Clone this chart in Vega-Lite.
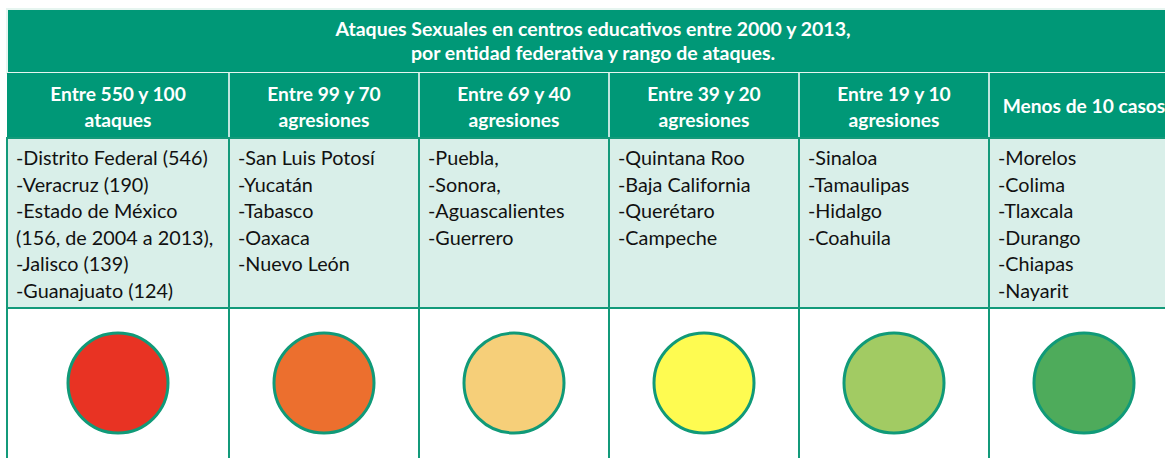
{
  "$schema": "https://vega.github.io/schema/vega-lite/v6.json",
  "padding": {"left": 6, "top": 8, "right": 0, "bottom": 0},
  "background": "white",
  "spacing": 0,
  "bounds": "flush",
  "datasets": {
    "titulo": [
      {"texto": "Ataques Sexuales en centros educativos entre 2000 y 2013,\npor entidad federativa y rango de ataques."}
    ],
    "rangos": [
      {"col": 1, "nivel": "Entre 550 y 100", "encabezado": "Entre 550 y 100\nataques", "entidades": "-Distrito Federal (546)\n-Veracruz (190)\n-Estado de México\n(156, de 2004 a 2013),\n-Jalisco (139)\n-Guanajuato (124)"},
      {"col": 2, "nivel": "Entre 99 y 70", "encabezado": "Entre 99 y 70\nagresiones", "entidades": "-San Luis Potosí\n-Yucatán\n-Tabasco\n-Oaxaca\n-Nuevo León"},
      {"col": 3, "nivel": "Entre 69 y 40", "encabezado": "Entre 69 y 40\nagresiones", "entidades": "-Puebla,\n-Sonora,\n-Aguascalientes\n-Guerrero"},
      {"col": 4, "nivel": "Entre 39 y 20", "encabezado": "Entre 39 y 20\nagresiones", "entidades": "-Quintana Roo\n-Baja California\n-Querétaro\n-Campeche"},
      {"col": 5, "nivel": "Entre 19 y 10", "encabezado": "Entre 19 y 10\nagresiones", "entidades": "-Sinaloa\n-Tamaulipas\n-Hidalgo\n-Coahuila"},
      {"col": 6, "nivel": "Menos de 10", "encabezado": "Menos de 10 casos", "entidades": "-Morelos\n-Colima\n-Tlaxcala\n-Durango\n-Chiapas\n-Nayarit"}
    ]
  },
  "vconcat": [
    {
      "width": 1172,
      "height": 64,
      "view": {"fill": "#009877", "stroke": "#e6f5f0", "strokeWidth": 2},
      "data": {"name": "titulo"},
      "mark": {"type": "text", "font": "Lato", "fontWeight": "bold", "fontSize": 19.5, "color": "#ffffff", "lineBreak": "\n", "lineHeight": 24, "align": "center", "baseline": "alphabetic", "dy": -5},
      "encoding": {"text": {"field": "texto", "type": "nominal"}}
    },
    {
      "width": 1172,
      "height": 65,
      "view": {"fill": "#009877", "stroke": null},
      "data": {"name": "rangos"},
      "layer": [
        {
          "transform": [{"filter": "datum.col > 1"}],
          "mark": {"type": "rule", "color": "#ffffff", "strokeWidth": 1.5, "xOffset": -95},
          "encoding": {
            "x": {"field": "col", "type": "quantitative", "axis": null, "scale": {"domain": [1, 2, 3, 4, 5, 6], "range": [111, 317, 507, 697, 887, 1077], "nice": false, "zero": false}}
          }
        },
        {
          "transform": [{"filter": "indexof(datum.encabezado, '\\n') >= 0"}],
          "mark": {"type": "text", "font": "Lato", "fontWeight": "bold", "fontSize": 19.2, "color": "#ffffff", "lineBreak": "\n", "lineHeight": 26, "align": "center", "baseline": "alphabetic", "dy": -5},
          "encoding": {
            "x": {"field": "col", "type": "quantitative", "axis": null, "scale": {"domain": [1, 2, 3, 4, 5, 6], "range": [111, 317, 507, 697, 887, 1077], "nice": false, "zero": false}},
            "text": {"field": "encabezado", "type": "nominal"}
          }
        },
        {
          "transform": [{"filter": "indexof(datum.encabezado, '\\n') < 0"}],
          "mark": {"type": "text", "font": "Lato", "fontWeight": "bold", "fontSize": 19.2, "color": "#ffffff", "align": "center", "baseline": "alphabetic", "dy": 7.5},
          "encoding": {
            "x": {"field": "col", "type": "quantitative", "axis": null, "scale": {"domain": [1, 2, 3, 4, 5, 6], "range": [111, 317, 507, 697, 887, 1077], "nice": false, "zero": false}},
            "text": {"field": "encabezado", "type": "nominal"}
          }
        }
      ]
    },
    {
      "width": 1172,
      "height": 170,
      "view": {"fill": "#d9efe9", "stroke": "#139a7a", "strokeWidth": 2},
      "data": {"name": "rangos"},
      "layer": [
        {
          "transform": [{"filter": "datum.col > 1"}],
          "mark": {"type": "rule", "color": "#139a7a", "strokeWidth": 2},
          "encoding": {
            "x": {"field": "col", "type": "quantitative", "axis": null, "scale": {"domain": [1, 2, 3, 4, 5, 6], "range": [0, 222, 412, 602, 792, 982], "nice": false, "zero": false}}
          }
        },
        {
          "mark": {"type": "text", "font": "Lato", "fontSize": 19.8, "color": "#111111", "lineBreak": "\n", "lineHeight": 26.5, "align": "left", "baseline": "alphabetic", "y": 0, "dy": 27, "dx": 9},
          "encoding": {
            "x": {"field": "col", "type": "quantitative", "axis": null, "scale": {"domain": [1, 2, 3, 4, 5, 6], "range": [0, 222, 412, 602, 792, 982], "nice": false, "zero": false}},
            "text": {"field": "entidades", "type": "nominal"}
          }
        }
      ]
    },
    {
      "width": 1172,
      "height": 152,
      "view": {"fill": "#ffffff", "stroke": "#139a7a", "strokeWidth": 2},
      "data": {"name": "rangos"},
      "layer": [
        {
          "transform": [{"filter": "datum.col > 1"}],
          "mark": {"type": "rule", "color": "#139a7a", "strokeWidth": 2, "xOffset": -95},
          "encoding": {
            "x": {"field": "col", "type": "quantitative", "axis": null, "scale": {"domain": [1, 2, 3, 4, 5, 6], "range": [111, 317, 507, 697, 887, 1077], "nice": false, "zero": false}}
          }
        },
        {
          "mark": {"type": "point", "shape": "circle", "filled": true, "size": 10000, "opacity": 1, "stroke": "#109a78", "strokeWidth": 3, "yOffset": -1},
          "encoding": {
            "x": {"field": "col", "type": "quantitative", "axis": null, "scale": {"domain": [1, 2, 3, 4, 5, 6], "range": [111, 317, 507, 697, 887, 1077], "nice": false, "zero": false}},
            "fill": {"field": "nivel", "type": "nominal", "legend": null, "scale": {"domain": ["Entre 550 y 100", "Entre 99 y 70", "Entre 69 y 40", "Entre 39 y 20", "Entre 19 y 10", "Menos de 10"], "range": ["#e83323", "#ec6f2e", "#f6cf79", "#fefb51", "#a2cb63", "#4eab5b"]}}
          }
        }
      ]
    }
  ],
  "config": {"view": {"stroke": null}, "concat": {"spacing": 0}}
}
